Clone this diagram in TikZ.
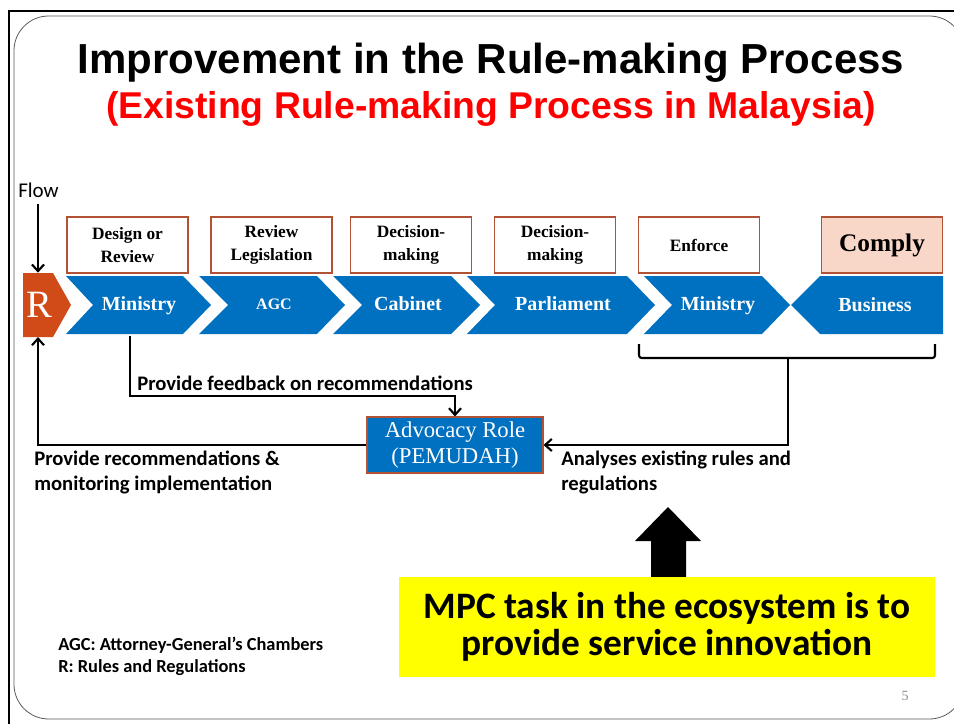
\documentclass[tikz,border=0pt]{standalone}
\usepackage{fontspec}
\setmainfont{Liberation Serif}
\setsansfont{Carlito}
\newfontfamily\arialfont{Liberation Sans}
\usetikzlibrary{arrows.meta}

\definecolor{flowblue}{RGB}{0,112,192}
\definecolor{rorange}{RGB}{209,75,25}
\definecolor{boxline}{RGB}{178,82,52}
\definecolor{complypink}{RGB}{248,214,200}
\definecolor{hiyellow}{RGB}{255,255,0}

\tikzset{
  stagebox/.style={draw=boxline, line width=0.8pt, fill=white, minimum width=90.75pt,
    minimum height=42pt, inner sep=1pt, align=center,
    font=\fontsize{13}{17.25}\selectfont\bfseries},
  chevtext/.style={text=white, inner sep=0pt, anchor=base,
    font=\fontsize{15}{18}\selectfont\bfseries},
  note/.style={font=\sffamily\bfseries\fontsize{15.5}{18.75}\selectfont, align=left, inner sep=0pt},
  link/.style={line width=1.6pt, ->},
}

\begin{document}
\begin{tikzpicture}[x=0.75pt,y=-0.75pt,>={Straight Barb[length=5pt,width=9pt]}]
\useasboundingbox (0,0) rectangle (954,724);

% slide frame
\draw[line width=1.5pt] (9,730) -- (9,11) -- (960,11);
\draw[black!65, line width=0.6pt, rounded corners=26pt] (14,16) rectangle (964,719);

% titles
\node[anchor=base, inner sep=0pt, font=\arialfont\bfseries\fontsize{31.5}{36}\selectfont] (title) at (491,74) {Improvement in the Rule-making Process};
\node[anchor=base, inner sep=0pt, text=red, font=\arialfont\bfseries\fontsize{28}{32}\selectfont] (subtitle) at (491,118) {(Existing Rule-making Process in Malaysia)};

\node[anchor=base west, inner sep=0pt, font=\sffamily\fontsize{15.75}{18}\selectfont] (flowlbl) at (18,197) {Flow};

% R block
\fill[rorange] (23,273) -- (53,273) -- (71,305) -- (53,337) -- (23,337) -- cycle;
\node[text=white, inner sep=0pt, minimum width=22.5pt, minimum height=48pt, font=\fontsize{29}{32}\selectfont] (rr) at (39,305) {R};

% chevrons
\fill[flowblue] (66,276) -- (183,276) -- (211,305) -- (183,334) -- (66,334) -- (93,305) -- cycle;
\fill[flowblue] (199,276) -- (317,276) -- (345,305) -- (317,334) -- (199,334) -- (228,305) -- cycle;
\fill[flowblue] (333,276) -- (451,276) -- (480,305) -- (451,334) -- (333,334) -- (362,305) -- cycle;
\fill[flowblue] (467,276) -- (627,276) -- (655,305) -- (627,334) -- (467,334) -- (495,305) -- cycle;
\fill[flowblue] (644,276) -- (762,276) -- (790,305) -- (762,334) -- (644,334) -- (672,305) -- cycle;
\fill[flowblue] (791,305) -- (820,276) -- (943,276) -- (943,334) -- (820,334) -- cycle;

\node[chevtext] (min1) at (139,310) {Ministry};
\node[chevtext, font=\fontsize{12}{14}\selectfont\bfseries] (agc) at (274,309) {AGC};
\node[chevtext] (cab) at (408,310) {Cabinet};
\node[chevtext] (parl) at (563,310) {Parliament};
\node[chevtext] (min2) at (718,310) {Ministry};
\node[chevtext] (bus) at (875,311) {Business};

% stage labels
\node[stagebox] (design) at (127.5,245) {Design or\\Review};
\node[stagebox] (review) at (271.5,245) {Review\\Legislation};
\node[stagebox] (decide1) at (411,245) {Decision-\\making};
\node[stagebox] (decide2) at (555,245) {Decision-\\making};
\node[stagebox] (enforce) at (699,245) {Enforce};
\node[stagebox, fill=complypink, font=\fontsize{19}{22}\selectfont\bfseries] (comply) at (882,245) {Comply};

% advocacy
\node[draw=boxline, line width=0.8pt, fill=flowblue, text=white, minimum width=132pt, minimum height=42pt,
  inner sep=1pt, align=center, font=\fontsize{17}{19.5}\selectfont] (advo) at (455,445) {Advocacy Role\\(PEMUDAH)};

% connectors
\coordinate (flowend) at (38,204);
\draw[link] (flowend) -- (flowend |- rr.north);
\coordinate (fbstart) at (130,336);
\draw[link] (fbstart) -- (130,396) -| (advo.north);
\draw[link] (advo.west) -| (38,337);
\draw[line width=1.6pt, rounded corners=2pt] (639,344) -- (639,358) -- (935,358) -- (935,344);
\coordinate (bracetip) at (788,358);
\draw[link] (bracetip) |- (advo.east);

\node[note, anchor=base west] (fbtext) at (137,390) {Provide feedback on recommendations};
\node[note, anchor=north west] (rectext) at (34,451) {Provide recommendations \&\\monitoring implementation};
\node[note, anchor=north west] (antext) at (561,451) {Analyses existing rules and\\regulations};

% MPC
\fill (651,578) -- (651,541) -- (635,541) -- (668,507) -- (701,541) -- (686,541) -- (686,578) -- cycle;
\node[fill=hiyellow, minimum width=402pt, minimum height=75pt, inner sep=0pt, align=center,
  font=\sffamily\bfseries\fontsize{28}{28}\selectfont] (mpc) at (667,627) {MPC task in the ecosystem is to\\provide service innovation};

\node[note, anchor=north west, font=\sffamily\bfseries\fontsize{13.8}{16.5}\selectfont] (legend) at (58,637) {AGC: Attorney-General’s Chambers\\R: Rules and Regulations};

\node[anchor=base, inner sep=0pt, text=black!45, font=\fontsize{10.5}{12}\selectfont] (pgno) at (905,700) {5};
\end{tikzpicture}
\end{document}
